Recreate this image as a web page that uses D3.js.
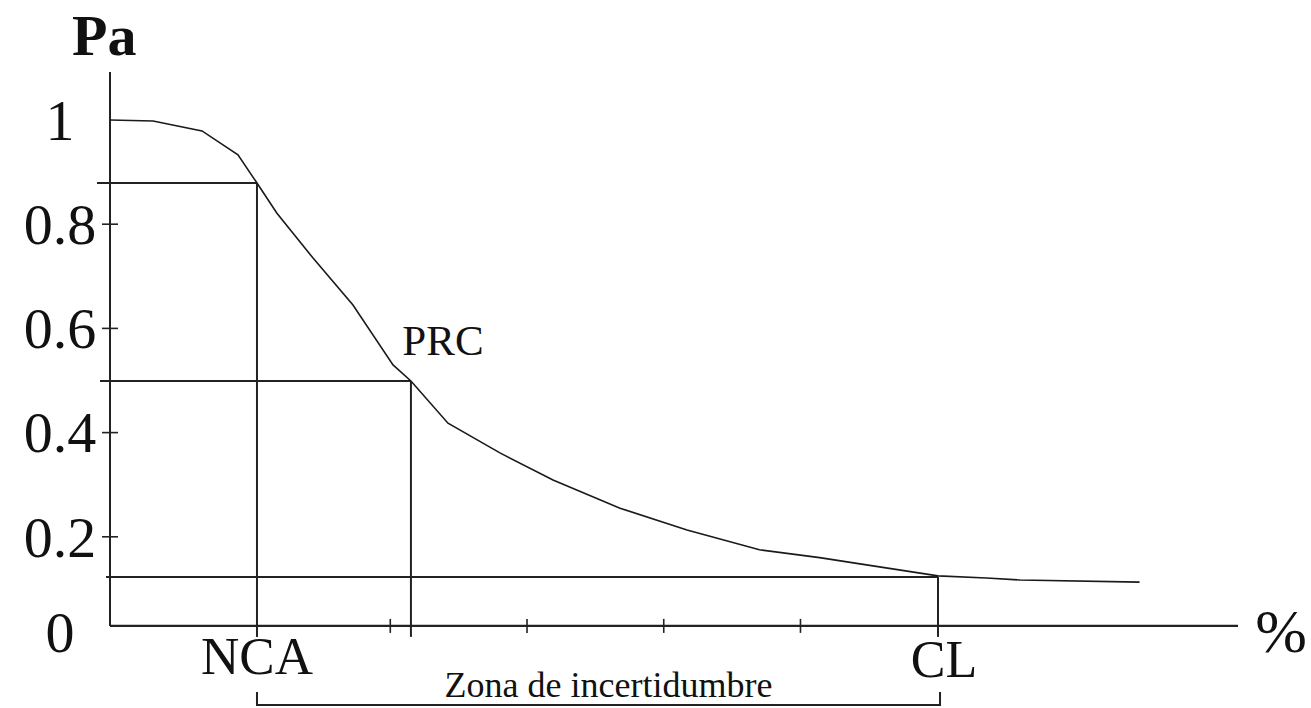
<!DOCTYPE html>
<html>
<head>
<meta charset="utf-8">
<script src="https://cdn.jsdelivr.net/npm/d3@7"></script>
<style>
  html, body { margin: 0; padding: 0; background: #fff; }
  svg { display: block; }
  text { font-family: "Liberation Serif", "Times New Roman", serif; fill: #111; }
</style>
</head>
<body>
<svg id="chart" width="1311" height="708"></svg>
<script>
// ---- data ----
const curveX = [-0.05, 0.265, 0.623, 0.886, 1.025, 1.171, 1.435, 1.727, 2.02, 2.151, 2.422, 2.802, 3.19, 3.68, 4.17, 4.70, 5.14, 5.435, 6.006, 6.36, 6.605, 7.48];
const curvePa = [1.0, 0.998, 0.979, 0.933, 0.879, 0.821, 0.735, 0.645, 0.530, 0.499, 0.418, 0.361, 0.309, 0.255, 0.213, 0.175, 0.160, 0.148, 0.125, 0.121, 0.117, 0.113];
const yTickValues = [0.2, 0.4, 0.6, 0.8];
const yLabelValues = [0, 0.2, 0.4, 0.6, 0.8, 1];
const yLabelTexts = ["0", "0.2", "0.4", "0.6", "0.8", "1"];
const xTickValues = [2, 3, 4, 5];
const markerNames = ["NCA", "PRC", "CL"];
const markerX = [1.025, 2.151, 6.006];
const markerPa = [0.879, 0.499, 0.123];
const guideStart = [-0.145, -0.123, -0.079];
const zoneLabel = "Zona de incertidumbre";
const yAxisTitle = "Pa";
const xAxisTitle = "%";

// ---- scales ----
const x = d3.scaleLinear().domain([-0.05, 8.2]).range([110, 1238]);
const y = d3.scaleLinear().domain([0, 1]).range([641, 120]);
const axisBase = 0.029;   // the drawn horizontal axis sits slightly above Pa = 0
const yTop = 1.092;

const svg = d3.select("#chart");
const ink = "#222";

// axes
svg.append("line").attr("x1", x(-0.05)).attr("x2", x(-0.05))
  .attr("y1", y(yTop)).attr("y2", y(axisBase))
  .attr("stroke", ink).attr("stroke-width", 2);
svg.append("line").attr("x1", x(-0.05)).attr("x2", x(8.2))
  .attr("y1", y(axisBase)).attr("y2", y(axisBase))
  .attr("stroke", ink).attr("stroke-width", 2.2);

// y ticks (crossing the axis)
svg.selectAll(".ytick").data(yTickValues).enter().append("line")
  .attr("x1", x(-0.05) - 8).attr("x2", x(-0.05) + 8)
  .attr("y1", d => y(d)).attr("y2", d => y(d))
  .attr("stroke", ink).attr("stroke-width", 1.6);

// y labels
svg.selectAll(".ylab").data(yLabelValues).enter().append("text")
  .attr("x", 60)
  .attr("y", (d, i) => (d === 0 ? y(axisBase) : y(d)))
  .attr("dy", (d) => d === 0 ? "0.45em" : "0.34em")
  .attr("text-anchor", "middle")
  .attr("font-size", 58)
  .text((d, i) => yLabelTexts[i]);

// x ticks
svg.selectAll(".xtick").data(xTickValues).enter().append("line")
  .attr("x1", d => x(d)).attr("x2", d => x(d))
  .attr("y1", y(axisBase) - 7).attr("y2", y(axisBase) + 7)
  .attr("stroke", ink).attr("stroke-width", 1.6);

// guide lines (horizontal + vertical)
markerNames.forEach((name, i) => {
  svg.append("line")
    .attr("x1", x(guideStart[i])).attr("x2", x(markerX[i]))
    .attr("y1", y(markerPa[i])).attr("y2", y(markerPa[i]))
    .attr("stroke", ink).attr("stroke-width", 2);
  svg.append("line")
    .attr("x1", x(markerX[i])).attr("x2", x(markerX[i]))
    .attr("y1", y(markerPa[i])).attr("y2", y(axisBase) + 11)
    .attr("stroke", ink).attr("stroke-width", 2);
});

// curve
const pts = curveX.map((v, i) => [v, curvePa[i]]);
svg.append("path")
  .attr("d", d3.line().x(d => x(d[0])).y(d => y(d[1]))(pts))
  .attr("fill", "none").attr("stroke", "#1a1a1a").attr("stroke-width", 1.6);

// marker labels
svg.append("text").attr("x", x(markerX[0])).attr("y", 674)
  .attr("text-anchor", "middle").attr("font-size", 53).text(markerNames[0]);
svg.append("text").attr("x", x(markerX[1]) + 32).attr("y", 355)
  .attr("text-anchor", "middle").attr("font-size", 43).text(markerNames[1]);
svg.append("text").attr("x", x(markerX[2]) + 6).attr("y", 677)
  .attr("text-anchor", "middle").attr("font-size", 52).text(markerNames[2]);

// axis titles
svg.append("text").attr("x", 72).attr("y", 55)
  .attr("font-size", 58).attr("font-weight", "bold").text(yAxisTitle);
svg.append("text").attr("x", 1281).attr("y", 652)
  .attr("text-anchor", "middle").attr("font-size", 62).text(xAxisTitle);

// uncertainty bracket
const bx1 = x(markerX[0]), bx2 = x(markerX[2]) + 2;
svg.append("path")
  .attr("d", `M${bx1},692 L${bx1},705 L${bx2},705 L${bx2},692`)
  .attr("fill", "none").attr("stroke", ink).attr("stroke-width", 2);
svg.append("text").attr("x", (bx1 + bx2) / 2 + 10).attr("y", 697)
  .attr("text-anchor", "middle").attr("font-size", 36).text(zoneLabel);
</script>
</body>
</html>
